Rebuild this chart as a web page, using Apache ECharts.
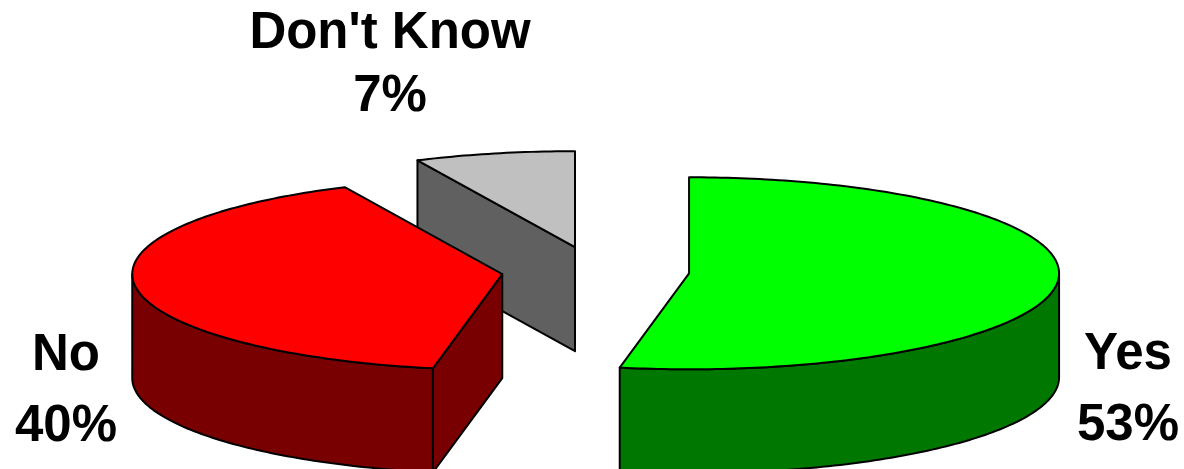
<!DOCTYPE html>
<html>
<head>
<meta charset="utf-8">
<script src="https://cdn.jsdelivr.net/npm/echarts@6/dist/echarts.min.js"></script>
<style>
  html, body { margin: 0; padding: 0; background: #ffffff; }
  #chart { width: 1184px; height: 469px; }
</style>
</head>
<body>
<div id="chart"></div>
<script>
// Survey answers, in percent
const categories = ['Yes', 'No', "Don't Know"];
const values = [53, 40, 7];

// Face colours: lit top, shaded sides
const topColors = ['#00ff00', '#ff0000', '#c0c0c0'];
const sideColors = ['#007800', '#780000', '#606060'];

// Geometry of the tilted, exploded pie (in grid units = pixels here)
const pie = { cx: 595.5, cy: 271, rx: 370, ry: 96, depth: 104, explode: 0.254 };
// Label anchors (centre of each two-line label) and line spacing
const labelPos = [[1128, 390], [66, 391], [390, 65]];
const labelLineHeight = [71, 71, 63];

const total = values.reduce((a, b) => a + b, 0);
const starts = [];
values.reduce((acc, v, i) => { starts[i] = acc; return acc + v; }, 0);

const rad = d => d * Math.PI / 180;

function renderItem(params, api) {
  const i = params.dataIndex;
  const v = api.value(1);
  const a0 = starts[i] / total * 360;
  const a1 = (starts[i] + v) / total * 360;
  const mid = (a0 + a1) / 2;

  // exploded centre of this slice
  const ccx = pie.cx + pie.explode * pie.rx * Math.sin(rad(mid));
  const ccy = pie.cy - pie.explode * pie.ry * Math.cos(rad(mid));

  // point on the rim at angle a (clockwise from 12 o'clock), dropped by dz
  const rim = (a, dz) => api.coord([ccx + pie.rx * Math.sin(rad(a)), ccy - pie.ry * Math.cos(rad(a)) + dz]);
  const ctr = dz => api.coord([ccx, ccy + dz]);
  const arc = (s, e, dz) => {
    const pts = [];
    const n = Math.max(2, Math.ceil(Math.abs(e - s)));
    for (let k = 0; k <= n; k++) pts.push(rim(s + (e - s) * k / n, dz));
    return pts;
  };

  const base = Math.round(-Math.cos(rad(mid)) * 100) * 3;
  const line = { stroke: '#000000', lineWidth: 2, lineJoin: 'round' };
  const children = [];

  // outer wall, only the part facing the viewer (3 o'clock to 9 o'clock)
  const ws = Math.max(a0, 90), we = Math.min(a1, 270);
  if (we > ws) {
    const pts = arc(ws, we, 0).concat(arc(we, ws, pie.depth));
    children.push({ type: 'polygon', z2: base, shape: { points: pts },
      style: Object.assign({ fill: sideColors[i] }, line) });
  }
  // cut face at the start angle
  if (Math.sin(rad(a0)) < -1e-6) {
    children.push({ type: 'polygon', z2: base, shape: { points: [ctr(0), rim(a0, 0), rim(a0, pie.depth), ctr(pie.depth)] },
      style: Object.assign({ fill: sideColors[i] }, line) });
  }
  // cut face at the end angle
  if (Math.sin(rad(a1)) > 1e-6) {
    children.push({ type: 'polygon', z2: base, shape: { points: [ctr(0), rim(a1, 0), rim(a1, pie.depth), ctr(pie.depth)] },
      style: Object.assign({ fill: sideColors[i] }, line) });
  }
  // top face
  children.push({ type: 'polygon', z2: base + 1, shape: { points: [ctr(0)].concat(arc(a0, a1, 0)) },
    style: Object.assign({ fill: topColors[i] }, line) });

  // category label with its share
  const lp = api.coord(labelPos[i]);
  children.push({
    type: 'text', z2: 1000, x: lp[0], y: lp[1],
    style: {
      text: categories[i] + '\n' + Math.round(v) + '%',
      fill: '#000000',
      fontFamily: 'Liberation Sans, Arial, sans-serif',
      fontWeight: 'bold',
      fontSize: 51,
      lineHeight: labelLineHeight[i],
      align: 'center',
      verticalAlign: 'middle'
    }
  });

  return { type: 'group', children: children };
}

const chart = echarts.init(document.getElementById('chart'), null, { renderer: 'canvas' });
chart.setOption({
  animation: false,
  backgroundColor: '#ffffff',
  grid: { left: 0, right: 0, top: 0, bottom: 0 },
  xAxis: { type: 'value', min: 0, max: 1184, show: false },
  yAxis: { type: 'value', min: 0, max: 469, inverse: true, show: false },
  series: [{
    type: 'custom',
    coordinateSystem: 'cartesian2d',
    clip: false,
    renderItem: renderItem,
    encode: { x: 0, y: 1 },
    data: values.map((v, i) => [i, v])
  }]
});
</script>
</body>
</html>
